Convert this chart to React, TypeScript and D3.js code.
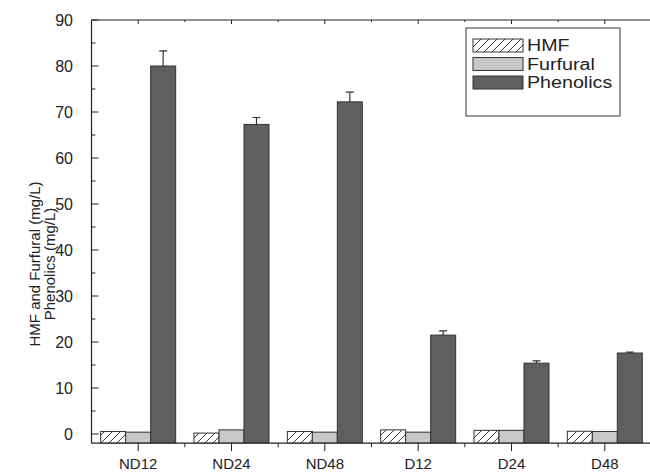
import React from "react";
import * as d3 from "d3";

const categories = ["ND12", "ND24", "ND48", "D12", "D24", "D48"];
const seriesNames = ["HMF", "Furfural", "Phenolics"];
const hmf = [0.55, 0.2, 0.55, 0.9, 0.8, 0.6];
const furfural = [0.4, 0.9, 0.4, 0.4, 0.8, 0.55];
const phenolics = [80, 67.3, 72.2, 21.5, 15.4, 17.6];
const phenolicsErr = [3.3, 1.5, 2.1, 0.9, 0.5, 0.2];
const yTicks = [0, 10, 20, 30, 40, 50, 60, 70, 80, 90];
const yMinorTicks = [5, 15, 25, 35, 45, 55, 65, 75, 85];

const W = 650;
const H = 473;
const left = 91.5;
const top = 20;
const bottom = 443.2;
const plotRight = left + 6 * 93.33;
const FONT = "'Liberation Sans', Arial, Helvetica, sans-serif";
const TXT = "#222";
const AX = "#222";

export default function App() {
  const y = d3.scaleLinear().domain([-2, 90]).range([bottom, top]);
  const x = d3.scaleBand<string>().domain(categories).range([left, plotRight]).paddingInner(0).paddingOuter(0);
  const sub = d3.scaleBand<string>().domain(seriesNames).range([-37.5, 37.5]);
  const data = [hmf, furfural, phenolics];
  const fills = ["url(#hatch)", "#c8c8c8", "#5f5f5f"];
  const center = (c: string) => (x(c) as number) + x.bandwidth() / 2;
  const boundaries = d3.range(1, categories.length + 1).map((i) => left + i * x.step());

  return (
    <svg width={W} height={H} style={{ position: "absolute", left: 0, top: 0, background: "#fff" }} fontFamily={FONT}>
      <defs>
        <pattern id="hatch" patternUnits="userSpaceOnUse" width={8} height={8}>
          <rect width={8} height={8} fill="#fff" />
          <path d="M-2,2 L2,-2 M0,8 L8,0 M6,10 L10,6" stroke="#222" strokeWidth={0.9} />
        </pattern>
        <clipPath id="plotclip">
          <rect x={left} y={top} width={plotRight - left} height={bottom - top} />
        </clipPath>
      </defs>

      {/* bars */}
      <g clipPath="url(#plotclip)">
        {categories.map((c, i) =>
          seriesNames.map((s, k) => {
            const v = data[k][i];
            const bx = center(c) + (sub(s) as number);
            return (
              <rect
                key={c + s}
                x={bx}
                y={y(v)}
                width={sub.bandwidth()}
                height={y(-2) - y(v)}
                fill={fills[k]}
                stroke="#333"
                strokeWidth={1}
              />
            );
          })
        )}
        {/* error bars */}
        {categories.map((c, i) => {
          const cx = center(c) + (sub("Phenolics") as number) + sub.bandwidth() / 2;
          const yt = y(phenolics[i] + phenolicsErr[i]);
          return (
            <g key={"e" + c} stroke="#333" strokeWidth={1.2}>
              <line x1={cx} x2={cx} y1={y(phenolics[i])} y2={yt} />
              <line x1={cx - 4} x2={cx + 4} y1={yt} y2={yt} />
            </g>
          );
        })}
      </g>

      {/* axes frame */}
      <g stroke={AX} strokeWidth={1.2} fill="none">
        <line x1={left} x2={left} y1={top} y2={bottom} />
        <line x1={left} x2={W + 5} y1={bottom} y2={bottom} />
        <line x1={left} x2={W + 5} y1={top} y2={top} />
      </g>

      {/* y ticks */}
      <g stroke={AX} strokeWidth={1}>
        {yTicks.map((t) => (
          <line key={"yt" + t} x1={left} x2={left + 7} y1={y(t)} y2={y(t)} />
        ))}
        {yMinorTicks.map((t) => (
          <line key={"ym" + t} x1={left} x2={left + 4} y1={y(t)} y2={y(t)} />
        ))}
      </g>
      <g fontSize={16} fill={TXT} textAnchor="end">
        {yTicks.map((t) => (
          <text key={"yl" + t} x={73} y={y(t)} dy="0.35em">
            {t}
          </text>
        ))}
      </g>

      {/* x ticks */}
      <g stroke={AX} strokeWidth={1}>
        {categories.map((c) => (
          <g key={"xt" + c}>
            <line x1={center(c)} x2={center(c)} y1={bottom} y2={bottom + 8} />
            <line x1={center(c)} x2={center(c)} y1={top} y2={top + 4} />
          </g>
        ))}
        {boundaries.map((b, i) => (
          <g key={"xm" + i}>
            <line x1={b} x2={b} y1={bottom} y2={bottom + 4} />
            <line x1={b} x2={b} y1={top} y2={top + 2} />
          </g>
        ))}
      </g>
      <g fontSize={15} fill={TXT} textAnchor="middle">
        {categories.map((c) => (
          <text key={"xl" + c} x={center(c)} y={469}>
            {c}
          </text>
        ))}
      </g>

      {/* y title */}
      <g fontSize={15} fill={TXT} textAnchor="middle">
        <text transform={`translate(40,264) rotate(-90)`}>HMF and Furfural (mg/L)</text>
        <text transform={`translate(55,264) rotate(-90)`}>Phenolics (mg/L)</text>
      </g>

      {/* legend */}
      <g>
        <rect x={466} y={28} width={154} height={88} fill="#fff" stroke="#333" strokeWidth={1} />
        {seriesNames.map((s, k) => {
          const ry = 39 + k * 18.5;
          return (
            <g key={"lg" + s}>
              <rect x={473} y={ry} width={50} height={13} fill={fills[k]} stroke="#333" strokeWidth={1} />
              <text
                transform={`translate(527,${ry + 6.5}) scale(1.23,1)`}
                dy="0.36em"
                fontSize={16}
                fill={TXT}
              >
                {s}
              </text>
            </g>
          );
        })}
      </g>
    </svg>
  );
}
